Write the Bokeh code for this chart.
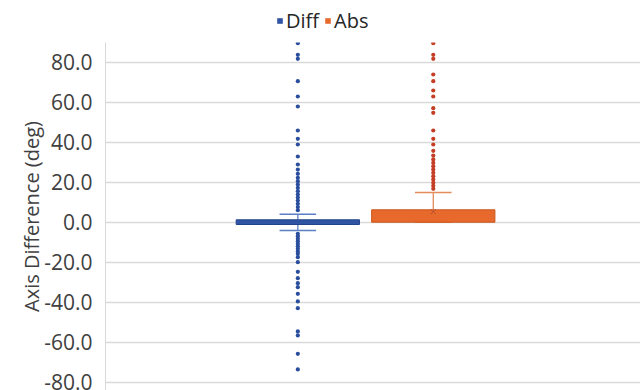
from bokeh.plotting import figure
from bokeh.layouts import column
from bokeh.models import Range1d, FixedTicker, NumeralTickFormatter, Legend, LegendItem
from bokeh.embed import file_html
from bokeh.resources import INLINE

# ---- data ----
series = ["Diff", "Abs"]
positions = [1, 2]
q1 = [-1.15, 0.0]
median = [0.0, 0.0]
q3 = [1.2, 6.2]
whisker_low = [-4.2, 0.0]
whisker_high = [4.0, 14.85]
abs_mean = 5.3

diff_outliers = [89.5, 83.7, 81.7, 70.5, 62.85, 57.85, 45.85, 41.7, 38.85, 32.85,
                 28.85, 26.3, 24.2, 22.2, 20.5, 18.85, 17.2, 15.5, 13.85, 12.3,
                 10.8, 9.2, 7.6, 6.0,
                 -5.8, -7.0, -8.3, -9.5, -10.8, -12.0, -13.3, -14.6, -15.8, -17.5,
                 -20.0, -24.8, -28.0, -30.5, -32.5, -35.8, -39.6, -43.0, -54.6,
                 -56.6, -65.8, -73.6]
abs_outliers = [89.5, 83.7, 81.7, 73.85, 70.5, 65.85, 62.85, 57.0, 54.7, 45.85,
                41.7, 38.85, 35.7, 33.3, 31.4, 29.7, 28.0, 26.4, 24.7, 23.0,
                21.4, 19.7, 18.2, 16.7]
y_ticks = [-80, -60, -40, -20, 0, 20, 40, 60, 80]

box_fill = ["#2E54A3", "#E8692C"]
box_line = ["#22438A", "#C9561E"]
whisk_col = ["#5B7FC4", "#E58A5C"]
dot_col = ["#2A4E9E", "#C43E26"]

FONT = "Open Sans"
TXT = "#404040"

p = figure(width=640, height=348, output_backend="svg", toolbar_location=None,
           x_range=Range1d(-0.42, 3.53), y_range=Range1d(-84.15, 89.85),
           min_border_left=105, min_border_right=0, min_border_top=0,
           min_border_bottom=0)
p.outline_line_color = None
p.xaxis.visible = False
p.xgrid.visible = False
p.ygrid.grid_line_color = "#D9D9D9"
p.ygrid.grid_line_width = 1.3

yax = p.yaxis[0]
yax.ticker = FixedTicker(ticks=y_ticks)
yax.formatter = NumeralTickFormatter(format="0.0")
yax.major_label_text_font = FONT
yax.major_label_text_font_size = "21px"
yax.major_label_text_color = TXT
yax.major_tick_line_color = None
yax.minor_tick_line_color = None
yax.axis_line_color = "#D9D9D9"
yax.major_label_standoff = 7
yax.axis_label = "Axis Difference (deg)"
yax.axis_label_text_font = FONT
yax.axis_label_text_font_size = "20px"
yax.axis_label_text_font_style = "normal"
yax.axis_label_text_color = TXT
yax.axis_label_standoff = -4

box_w = 0.91
cap_w = 0.27
for i in range(2):
    x = positions[i]
    p.segment(x0=[x, x], y0=[q3[i], q1[i]], x1=[x, x], y1=[whisker_high[i], whisker_low[i]],
              line_color=whisk_col[i], line_width=1.3)
    p.segment(x0=[x - cap_w / 2, x - cap_w / 2], y0=[whisker_high[i], whisker_low[i]],
              x1=[x + cap_w / 2, x + cap_w / 2], y1=[whisker_high[i], whisker_low[i]],
              line_color=whisk_col[i], line_width=1.5)
    p.vbar(x=[x], bottom=[q1[i]], top=[q3[i]], width=box_w,
           fill_color=box_fill[i], line_color=box_line[i], line_width=1)

p.scatter(x=[positions[0]] * len(diff_outliers), y=diff_outliers, size=4.2,
          fill_color=dot_col[0], line_color=None)
p.scatter(x=[positions[1]] * len(abs_outliers), y=abs_outliers, size=4.2,
          fill_color=dot_col[1], line_color=None)
p.scatter(x=[positions[1]], y=[abs_mean], marker="x", size=7,
          line_color="#B5502A", line_width=1)

# legend strip on top (hidden copies of the boxes feed the legend)
pl = figure(width=640, height=42, output_backend="svg", toolbar_location=None,
            x_range=Range1d(-0.42, 3.53), y_range=Range1d(-84.15, 89.85),
            min_border_left=0, min_border_right=0, min_border_top=0, min_border_bottom=0)
pl.outline_line_color = None
pl.axis.visible = False
pl.grid.visible = False
leg_r = [pl.vbar(x=[positions[i]], bottom=[q1[i]], top=[q3[i]], width=box_w,
                 fill_color=box_fill[i], line_color=None, visible=False)
         for i in range(2)]
legend = Legend(items=[LegendItem(label=series[i], renderers=[leg_r[i]]) for i in range(2)],
                orientation="horizontal", location=(171, 8))
legend.label_text_font = FONT
legend.label_text_font_size = "20px"
legend.label_text_color = "#262626"
legend.glyph_width = 7
legend.glyph_height = 7
legend.label_standoff = 3
legend.spacing = 5
legend.padding = 0
legend.margin = 0
legend.border_line_color = None
legend.background_fill_alpha = 0
pl.add_layout(legend, "center")

layout = column(pl, p, spacing=0)
open("out.html", "w").write(file_html(layout, INLINE))
